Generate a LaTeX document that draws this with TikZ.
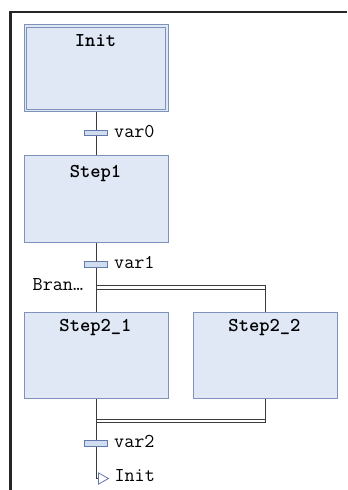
\documentclass[tikz,border=0pt]{standalone}
\usetikzlibrary{calc,backgrounds}

\definecolor{stepfill}{RGB}{224,232,246}
\definecolor{stepline}{RGB}{126,146,188}
\definecolor{barfill}{RGB}{208,220,240}
\definecolor{barline}{RGB}{100,122,170}
\definecolor{wire}{RGB}{60,60,60}

\begin{document}
\begin{tikzpicture}[x=1bp,y=-1bp,
  monofont/.style={font=\fontsize{19.6bp}{22bp}\selectfont\ttfamily},
  stepbox/.style={draw=stepline, fill=stepfill, line width=0.9bp,
    minimum width=144bp, minimum height=86.5bp, inner sep=0, anchor=north west},
  steptext/.style={monofont, font=\fontsize{19.6bp}{22bp}\selectfont\ttfamily\bfseries,
    anchor=base, inner sep=0},
  transbar/.style={draw=barline, fill=barfill, line width=0.8bp,
    minimum width=23.5bp, minimum height=5.8bp, inner sep=0},
  translabel/.style={monofont, anchor=base west, inner sep=0},
  wireline/.style={draw=wire, line width=0.9bp},
  jumptip/.style={draw=barline, fill=white, line width=0.8bp, line join=miter}]

\useasboundingbox (0,0) rectangle (347,490);

% editor frame
\draw[line width=2.2bp, black!85] (10.5,490) -- (10.5,12.2) -- (347,12.2);

% initial step with double border
\node[stepbox] (init) at (23.5,24.5) {};
\draw[draw=stepline, line width=0.9bp]
  ($(init.north west)+(2.7,2.7)$) rectangle ($(init.south east)+(-2.7,-2.7)$);
\node[steptext] (initlbl) at (95.5,46.5) {Init};

% steps
\node[stepbox] (step1) at (23.5,155.2) {};
\node[steptext] (step1lbl) at (95.5,177.6) {Step1};

\node[stepbox] (step21) at (23.5,311.5) {};
\node[steptext] (step21lbl) at (95.5,331.6) {Step2\_1};

\node[stepbox] (step22) at (192.5,311.5) {};
\node[steptext] (step22lbl) at (264.5,331.6) {Step2\_2};

% transitions
\node[transbar] (t0) at (96,133) {};
\node[translabel] (t0lbl) at (114,137.3) {var0};

\node[transbar] (t1) at (96,264.2) {};
\node[translabel] (t1lbl) at (114,268.4) {var1};

\node[transbar] (t2) at (96,443.5) {};
\node[translabel] (t2lbl) at (114,447.7) {var2};

% branch label
\node[translabel] (branchlbl) at (32.5,290) {Bran…};

% branch and join points
\coordinate (forka) at (96,285.8);
\coordinate (forkb) at (96,289.2);
\coordinate (joina) at (96,419.4);
\coordinate (joinb) at (96,422.4);
\coordinate (jmpcorner) at (96,478.5);
\coordinate (jmp) at (98.5,478.5);

\begin{scope}[on background layer]
  \draw[wireline] (init.south -| t0) -- (t0) -- (step1.north -| t0);
  \draw[wireline] (step1.south -| t1) -- (t1) -- (step21.north -| t1);
  \draw[wireline] (forka) -| (step22.north);
  \draw[wireline] (forkb) -- (forkb -| step22.north);
  \draw[wireline] (step21.south -| t2) -- (t2) -- (jmpcorner) -- (jmp);
  \draw[wireline] (step22.south) |- (joinb);
  \draw[wireline] (joina) -- (joina -| step22.south);
\end{scope}

% jump to the initial step
\draw[jumptip] (jmp) -- ++(0,-5.6) -- ++(10,5.6) -- ++(-10,5.6) -- cycle;
\node[translabel] (jmplbl) at (114.3,481) {Init};

\end{tikzpicture}
\end{document}
